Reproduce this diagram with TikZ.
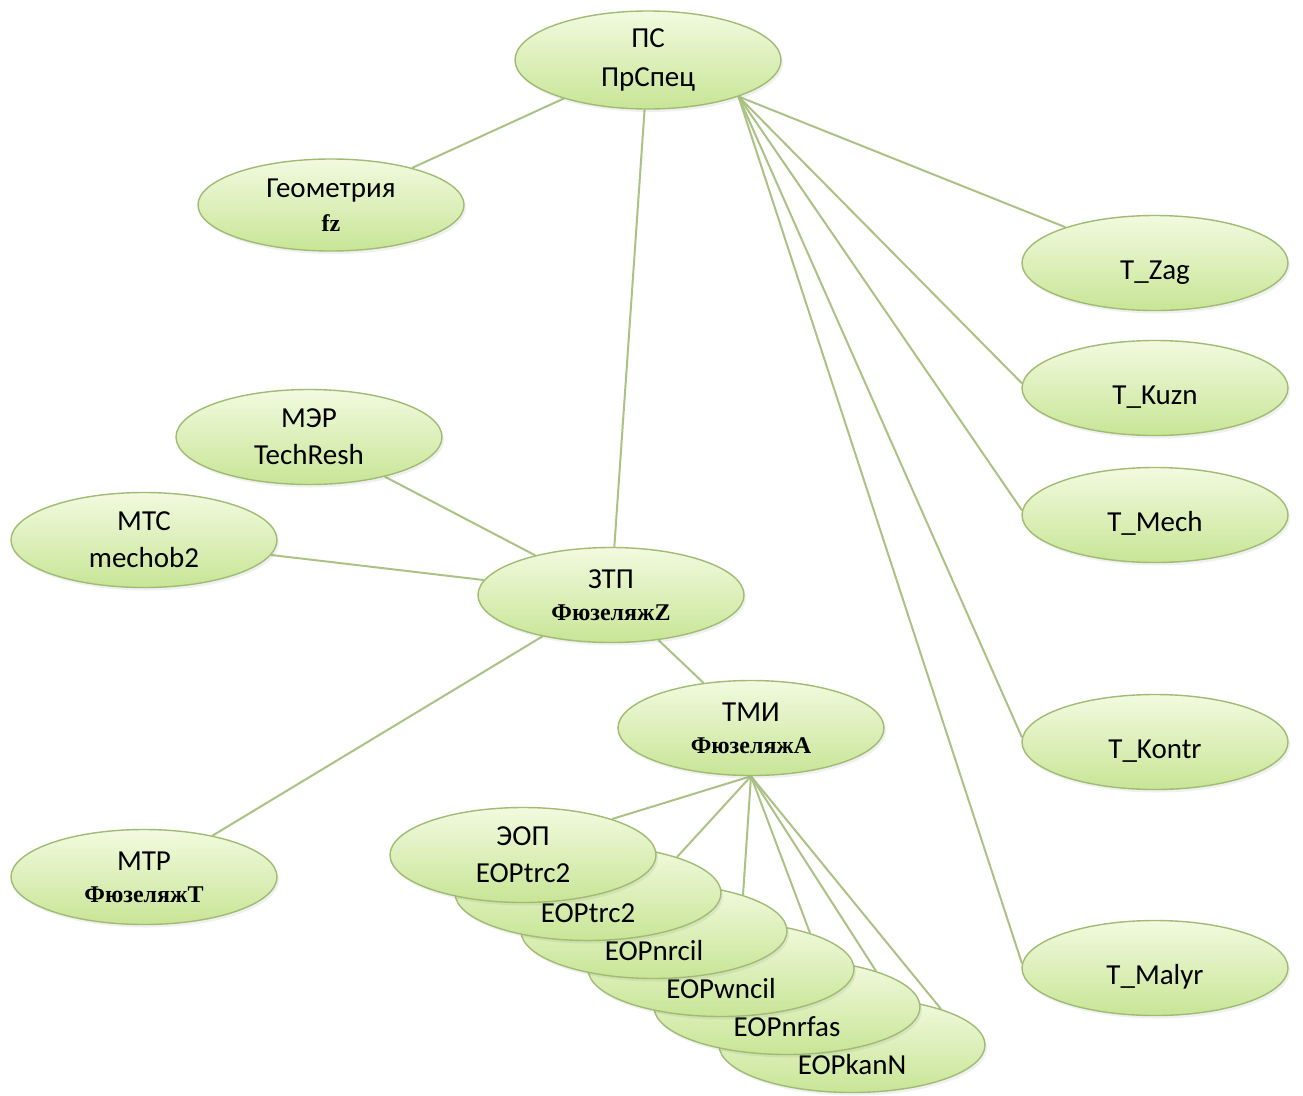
\documentclass[tikz,border=0pt]{standalone}
\usepackage{fontspec}
\setmainfont{Carlito}
\newfontfamily\tnr{Liberation Serif}
\usetikzlibrary{shapes.geometric,shadows}
\definecolor{ellTop}{HTML}{F2FADF}
\definecolor{ellBot}{HTML}{C8E596}
\definecolor{ellLine}{HTML}{A0BB72}
\definecolor{connLine}{HTML}{AAC284}
\pgfdeclarelayer{background}
\pgfsetlayers{background,main}
\newcommand{\serb}[1]{{\tnr\bfseries\fontsize{24}{28}\selectfont #1}}
\newcommand{\lowtxt}[2]{\raisebox{-#1pt}[0pt][0pt]{#2}}
\tikzset{
  ell/.style={ellipse, draw=ellLine, line width=1.4pt, top color=ellTop, bottom color=ellBot,
    minimum width=266pt, minimum height=95pt, inner sep=0pt, align=center,
    font=\fontsize{29}{37}\selectfont, text=black,
    drop shadow={opacity=0.12, shadow xshift=2pt, shadow yshift=-3pt}},
  conn/.style={draw=connLine, line width=2pt},
}
\begin{document}
\begin{tikzpicture}[x=1pt,y=-1pt]
\useasboundingbox (0,0) rectangle (1303,1095);
% nodes
\node[ell, minimum height=98pt] (ps) at (648,60) {ПС\\[2pt]ПрСпец};
\node[ell, minimum height=92pt] (geo) at (331,205) {Геометрия\\[-3pt]\serb{fz}};
\node[ell] (zag) at (1155,263) {\lowtxt{16}{T\_Zag}};
\node[ell] (kuzn) at (1155,388) {\lowtxt{16}{T\_Kuzn}};
\node[ell] (mech) at (1155,515) {\lowtxt{16}{T\_Mech}};
\node[ell] (kontr) at (1155,742) {\lowtxt{16}{T\_Kontr}};
\node[ell] (malyr) at (1155,968) {\lowtxt{16}{T\_Malyr}};
\node[ell] (mer) at (309,437) {МЭР\\TechResh};
\node[ell] (mtc) at (144,540) {МТС\\mechob2};
\node[ell] (ztp) at (611,595) {ЗТП\\[-5pt]\serb{ФюзеляжZ}};
\node[ell] (tmi) at (751,728) {ТМИ\\[-5pt]\serb{ФюзеляжA}};
\node[ell] (mtr) at (144,877) {МТР\\[-5pt]\serb{ФюзеляжT}};
\node[ell] (e6) at (852,1045) {\lowtxt{29}{EOPkanN}};
\node[ell] (e5) at (787,1007) {\lowtxt{29}{EOPnrfas}};
\node[ell] (e4) at (721,969) {\lowtxt{29}{EOPwncil}};
\node[ell] (e3) at (654,931) {\lowtxt{29}{EOPnrcil}};
\node[ell] (e2) at (588,893) {\lowtxt{29}{EOPtrc2}};
\node[ell] (e1) at (523,855) {ЭОП\\EOPtrc2};
% connectors
\begin{pgfonlayer}{background}
\draw[conn] (ps) -- (geo);
\draw[conn] (ps) -- (ztp);
\draw[conn] (ps.-22) -- (zag);
\draw[conn] (ps.-22) -- (kuzn.178);
\draw[conn] (ps.-22) -- (mech.178);
\draw[conn] (ps.-22) -- (kontr.178);
\draw[conn] (ps.-22) -- (malyr.178);
\draw[conn] (ztp) -- (mer);
\draw[conn] (ztp) -- (mtc);
\draw[conn] (ztp) -- (mtr);
\draw[conn] (ztp) -- (tmi);
\foreach \e in {e1,e2,e3,e4,e5,e6} \draw[conn] (tmi.south) -- (\e.22);
\end{pgfonlayer}
\end{tikzpicture}
\end{document}
